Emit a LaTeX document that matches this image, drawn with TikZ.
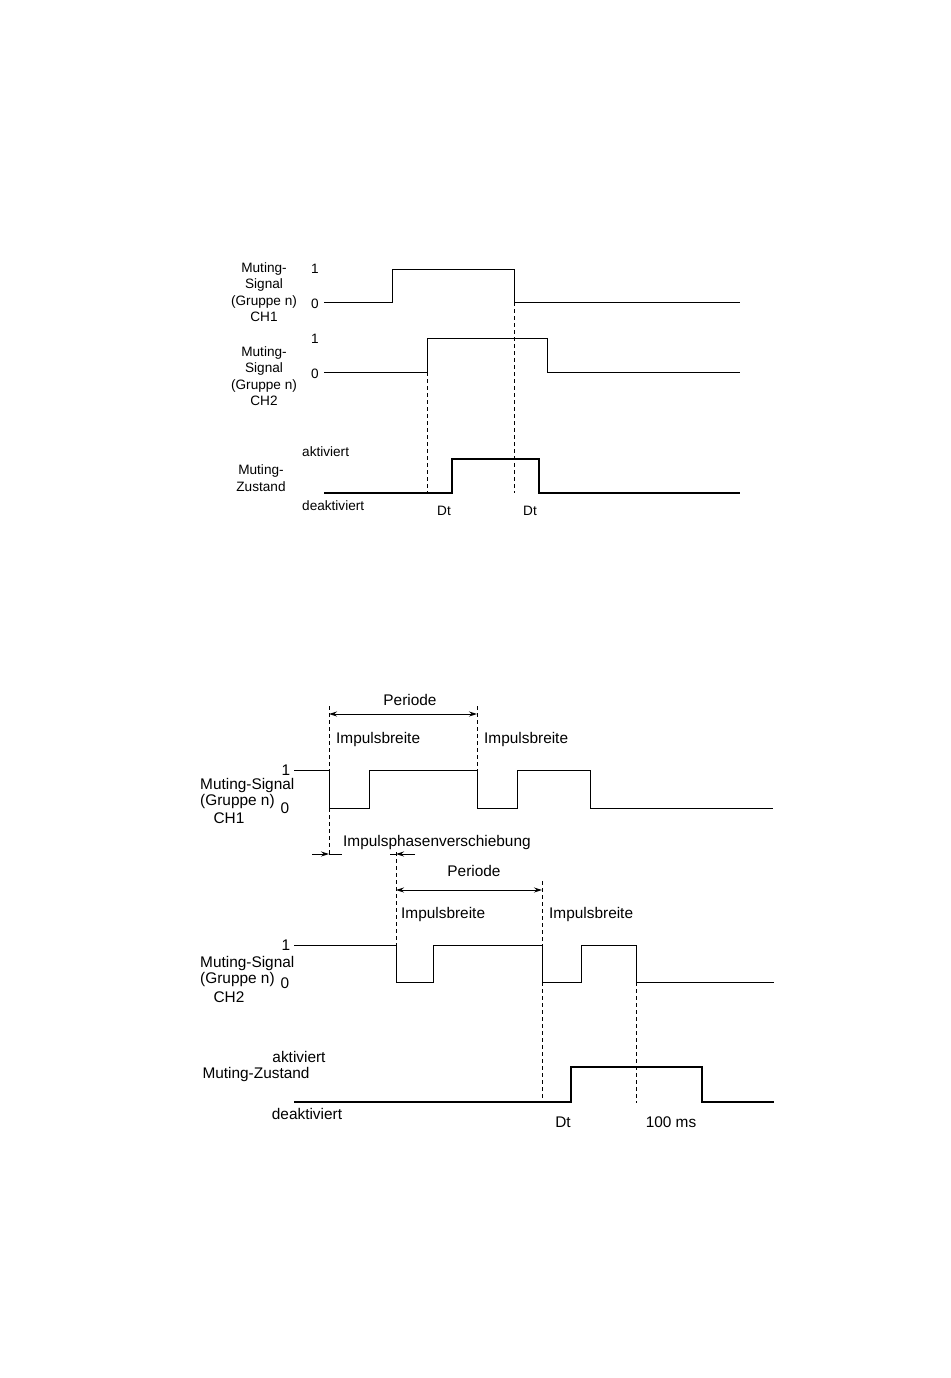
\documentclass[tikz,border=0pt]{standalone}
\usepackage{fontspec}
\setmainfont{Liberation Sans}
\usetikzlibrary{arrows.meta, positioning}

\begin{document}
\begin{tikzpicture}[
    x=1pt, y=-1pt,
    toplabel/.style={font=\fontsize{13.6}{16.5}\selectfont, inner sep=0pt, align=center},
    lowlabel/.style={font=\fontsize{15.4}{16.5}\selectfont, inner sep=0pt, align=center},
    sig/.style={line width=0.9pt},
    state/.style={line width=2.6pt},
    guide/.style={dash pattern=on 4pt off 3pt, line width=0.7pt},
    dim/.style={{Stealth[length=8pt,width=5pt]}-{Stealth[length=8pt,width=5pt]}, line width=0.9pt},
    phasearrow/.style={-{Stealth[length=8pt,width=5pt]}, line width=0.9pt},
]
\useasboundingbox (0,0) rectangle (950,1378);

% upper diagram
\node[toplabel] (sigA) at (264,292) {Muting-\\Signal\\(Gruppe n)\\CH1};
\node[toplabel] (oneA) at (315,269) {1};
\node[toplabel] (zeroA) at (315,304) {0};
\node[toplabel] (sigB) at (264,376) {Muting-\\Signal\\(Gruppe n)\\CH2};
\node[toplabel] (oneB) at (315,339) {1};
\node[toplabel] (zeroB) at (315,374) {0};
\node[toplabel, anchor=west] (actA) at (302,452) {aktiviert};
\node[toplabel] (muteA) at (261,478) {Muting-\\Zustand};
\node[toplabel, anchor=west] (deactA) at (302,506) {deaktiviert};
\node[toplabel] (dtA) at (444,511) {Dt};
\node[toplabel] (dtB) at (530,511) {Dt};

\draw[sig] (324,302) -- (392,302) -- (392,269) -- (514,269) -- (514,302) -- (740,302);
\draw[sig] (324,372) -- (427,372) -- (427,338) -- (547,338) -- (547,372) -- (740,372);
\draw[state] (324,493) -- (452,493) -- (452,459) -- (539,459) -- (539,493) -- (740,493);
\draw[guide] (427,372) -- (427,493);
\draw[guide] (514,302) -- (514,493);

% lower diagram
\node[lowlabel] (oneC) at (286,770) {1};
\node[lowlabel, anchor=west] (sigC) at (200,786) {Muting-Signal};
\node[lowlabel, anchor=west] (grpC) at (200,802) {(Gruppe n)};
\node[lowlabel] (zeroC) at (285,808) {0};
\node[lowlabel] (chC) at (229,818) {CH1};
\node[lowlabel] (perC) at (410,700) {Periode};
\node[lowlabel, anchor=west] (pwC) at (336,740) {Impulsbreite};
\node[lowlabel, anchor=west] (pwD) at (484,740) {Impulsbreite};
\node[lowlabel, anchor=west] (phase) at (343,843) {Impulsphasenverschiebung};

\node[lowlabel] (oneD) at (286,945) {1};
\node[lowlabel, anchor=west] (sigD) at (200,964) {Muting-Signal};
\node[lowlabel, anchor=west] (grpD) at (200,980) {(Gruppe n)};
\node[lowlabel] (zeroD) at (285,983) {0};
\node[lowlabel] (chD) at (229,997) {CH2};
\node[lowlabel] (perD) at (474,871) {Periode};
\node[lowlabel, anchor=west] (pwE) at (401,915) {Impulsbreite};
\node[lowlabel, anchor=west] (pwF) at (549,915) {Impulsbreite};

\node[lowlabel] (actB) at (299,1057) {aktiviert};
\node[lowlabel] (muteB) at (256,1075) {Muting-Zustand};
\node[lowlabel] (deactB) at (307,1114) {deaktiviert};
\node[lowlabel] (dtC) at (563,1122) {Dt};
\node[lowlabel] (msC) at (671,1122) {100 ms};

\coordinate (fallA) at (329,714);
\coordinate (fallB) at (477,714);
\coordinate (fallC) at (396,890);
\coordinate (fallD) at (542,890);

\draw[sig] (294,770) -- (329,770) -- (329,808) -- (369,808) -- (369,770) -- (477,770) -- (477,808)
    -- (517,808) -- (517,770) -- (590,770) -- (590,808) -- (773,808);
\draw[sig] (294,945) -- (396,945) -- (396,982) -- (433,982) -- (433,945) -- (542,945) -- (542,982)
    -- (581,982) -- (581,945) -- (636,945) -- (636,982) -- (774,982);
\draw[state] (294,1102) -- (571,1102) -- (571,1067) -- (702,1067) -- (702,1102) -- (774,1102);

\draw[dim] (fallA) -- (fallB);
\draw[dim] (fallC) -- (fallD);

\draw[guide] (329,706) -- (329,770);
\draw[guide] (329,808) -- (329,854);
\draw[guide] (477,706) -- (477,770);
\draw[guide] (396,852) -- (396,945);
\draw[guide] (542,881) -- (542,945);
\draw[guide] (542,982) -- (542,1103);
\draw[guide] (636,982) -- (636,1103);

% phase shift marks
\coordinate (shA) at (329,854);
\coordinate (shB) at (396,854);
\draw[phasearrow] (312,854) -- (shA);
\draw[sig] (shA) -- (342,854);
\draw[phasearrow] (415,854) -- (shB);
\draw[sig] (shB) -- (390,854);

\end{tikzpicture}
\end{document}
